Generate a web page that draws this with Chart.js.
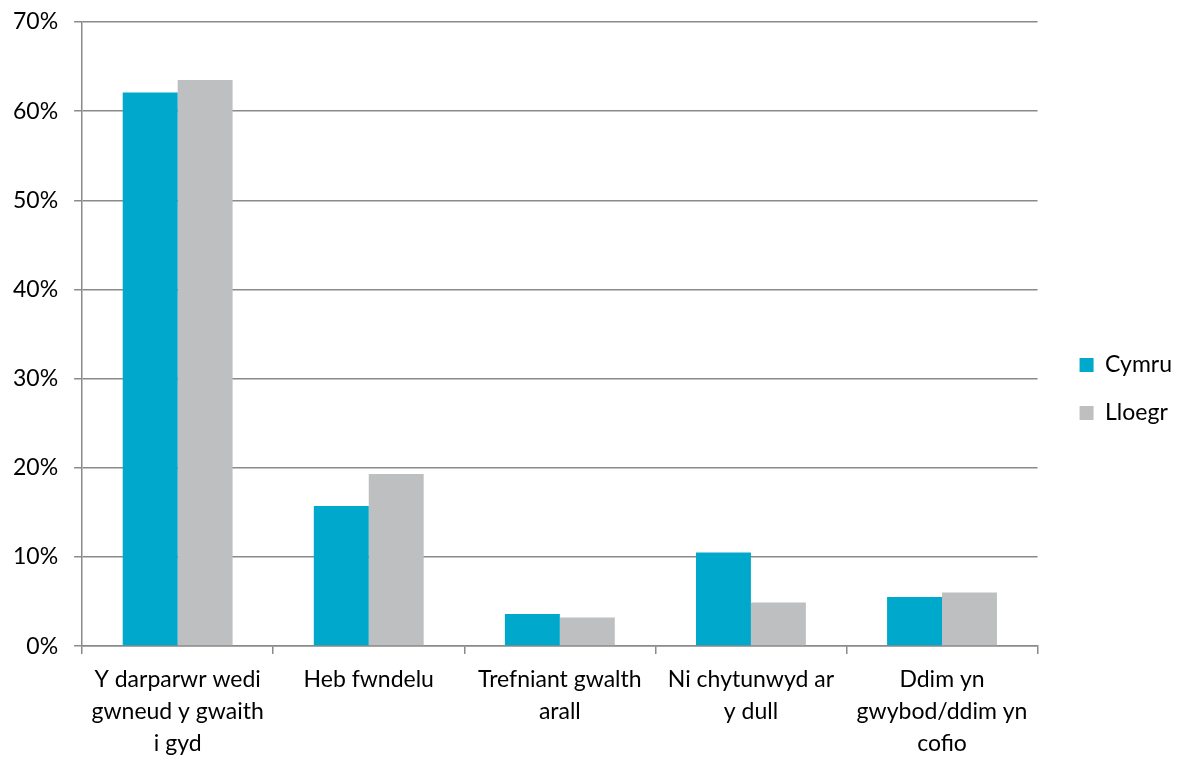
<!DOCTYPE html>
<html>
<head>
<meta charset="utf-8">
<script src="https://cdn.jsdelivr.net/npm/chart.js@4"></script>
<style>
  body { margin: 0; background: #fff; }
  #wrap { width: 1179px; height: 762px; }
</style>
</head>
<body>
<div id="wrap"><canvas id="chart"></canvas></div>
<script>
// categorïau a gwerthoedd (%)
const categories = [
  ['Y darparwr wedi', 'gwneud y gwaith', 'i gyd'],
  ['Heb fwndelu'],
  ['Trefniant gwalth', 'arall'],
  ['Ni chytunwyd ar', 'y dull'],
  ['Ddim yn', 'gwybod/ddim yn', 'cofio']
];
const seriesNames = ['Cymru', 'Lloegr'];
const cymru = [62.1, 15.7, 3.6, 10.5, 5.5];
const lloegr = [63.5, 19.3, 3.2, 4.9, 6.0];
const yTicks = [0, 10, 20, 30, 40, 50, 60, 70];

const gridColor = '#8a8a8a';
const fontFam = 'Lato';

const ctx = document.getElementById('chart').getContext('2d');
const chart = new Chart(ctx, {
  type: 'bar',
  data: {
    labels: categories,
    datasets: [
      { label: seriesNames[0], data: cymru, backgroundColor: '#00A8CC' },
      { label: seriesNames[1], data: lloegr, backgroundColor: '#BEBFC1' }
    ]
  },
  options: {
    responsive: true,
    maintainAspectRatio: false,
    animation: false,
    layout: { padding: { top: 8, left: -3, right: -3, bottom: -8 } },
    datasets: {
      bar: { categoryPercentage: 0.575, barPercentage: 1.0 }
    },
    plugins: {
      legend: {
        position: 'right',
        labels: {
          font: { family: fontFam, size: 23 },
          color: '#000',
          boxWidth: 14,
          boxHeight: 14,
          padding: 25
        }
      },
      tooltip: { enabled: false }
    },
    scales: {
      x: {
        grid: {
          drawOnChartArea: false,
          drawTicks: true,
          tickLength: 8,
          color: gridColor,
          lineWidth: 1.5,
          offset: true
        },
        border: { color: gridColor, width: 1.5 },
        ticks: {
          color: '#000',
          font: { family: fontFam, size: 23, lineHeight: 1.39 },
          padding: 10,
          maxRotation: 0,
          autoSkip: false
        }
      },
      y: {
        min: 0,
        max: 70,
        afterBuildTicks: (axis) => { axis.ticks = yTicks.map(v => ({ value: v })); },
        afterFit: (s) => { s.paddingTop = 22; },
        grid: {
          color: gridColor,
          lineWidth: 1.5,
          tickLength: 8
        },
        border: { color: gridColor, width: 1.5 },
        ticks: {
          color: '#000',
          font: { family: fontFam, size: 23 },
          padding: 16,
          callback: (v) => v + '%'
        }
      },
      // bwlch gwag rhwng y plot a'r allwedd
      gap: {
        type: 'linear',
        position: 'right',
        grid: { display: false },
        border: { display: false },
        ticks: { display: false },
        afterFit: (s) => { s.width = 17; }
      }
    }
  }
});
</script>
</body>
</html>
